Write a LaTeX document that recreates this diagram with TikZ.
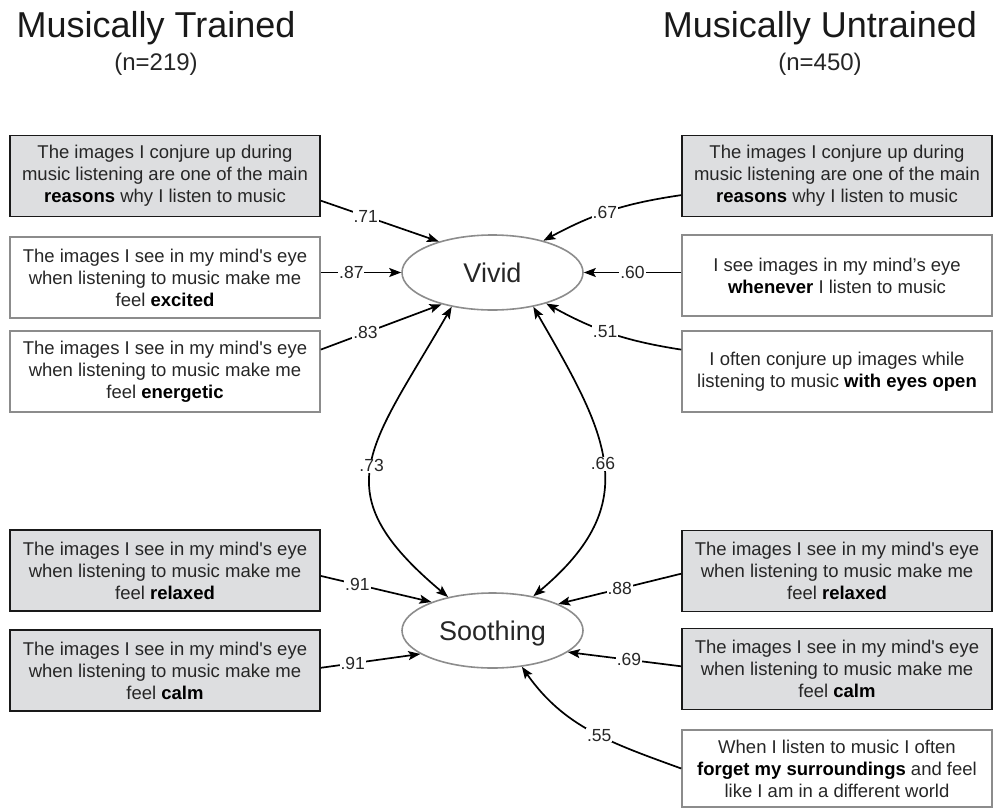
\documentclass[tikz,border=0pt]{standalone}
\usepackage{fontspec}
\setmainfont{Liberation Sans}
\usetikzlibrary{arrows.meta, shapes.geometric}
\definecolor{boxgray}{RGB}{221,222,224}
\definecolor{edgegray}{RGB}{140,140,140}
\definecolor{inkgray}{RGB}{38,38,38}
\newcommand{\bterm}[1]{\textbf{\color{black}#1}}

\begin{document}
\begin{tikzpicture}[x=1pt, y=1pt, >={Stealth[length=12pt, width=9pt, inset=2.5pt]}, line width=1.7pt,
  item/.style={draw=edgegray, line width=1.5pt, align=center, minimum width=310pt, minimum height=81pt, inner sep=0pt, text=inkgray, font=\fontsize{18.5}{22}\selectfont},
  itemdark/.style={item, draw=black!90, fill=boxgray, line width=1.8pt},
  factor/.style={ellipse, draw=edgegray, line width=1.6pt, minimum width=181pt, minimum height=75pt, text height=19pt, text depth=0pt, text=inkgray, font=\fontsize{27}{30}\selectfont},
  weight/.style={fill=white, inner sep=1pt, text=inkgray, font=\fontsize{17.5}{19}\selectfont},
  heading/.style={anchor=base, text=black!90, font=\fontsize{36}{40}\selectfont},
  samplesize/.style={anchor=base, text=inkgray, font=\fontsize{24}{28}\selectfont}]
\useasboundingbox (0,0) rectangle (996,-809);
% group headings
\node[heading] (h1) at (156,-37) {Musically Trained};
\node[samplesize] (s1) at (156,-70) {(n=219)};
\node[heading] (h2) at (820,-37) {Musically Untrained};
\node[samplesize] (s2) at (820,-70) {(n=450)};
% latent factors
\node[factor] (vivid) at (492.5,-272.5) {Vivid};
\node[factor] (soothing) at (492.5,-630.5) {Soothing};
% items, musically trained
\node[itemdark] (t1) at (165,-176) {The images I conjure up during\\music listening are one of the main\\\bterm{reasons} why I listen to music};
\node[item] (t2) at (165,-277.5) {The images I see in my mind\textquotesingle s eye\\when listening to music make me\\feel \bterm{excited}};
\node[item] (t3) at (165,-371.5) {The images I see in my mind\textquotesingle s eye\\when listening to music make me\\feel \bterm{energetic}};
\node[itemdark] (t4) at (165,-570.5) {The images I see in my mind\textquotesingle s eye\\when listening to music make me\\feel \bterm{relaxed}};
\node[itemdark] (t5) at (165,-670.5) {The images I see in my mind\textquotesingle s eye\\when listening to music make me\\feel \bterm{calm}};
% items, musically untrained
\node[itemdark] (u1) at (837,-176) {The images I conjure up during\\music listening are one of the main\\\bterm{reasons} why I listen to music};
\node[item] (u2) at (837,-275.5) {I see images in my mind’s eye\\\bterm{whenever} I listen to music};
\node[item] (u3) at (837,-371.5) {I often conjure up images while\\listening to music \bterm{with eyes open}};
\node[itemdark] (u4) at (837,-571) {The images I see in my mind\textquotesingle s eye\\when listening to music make me\\feel \bterm{relaxed}};
\node[itemdark] (u5) at (837,-669) {The images I see in my mind\textquotesingle s eye\\when listening to music make me\\feel \bterm{calm}};
\node[item, minimum height=77pt] (u6) at (837,-768.5) {When I listen to music I often\\\bterm{forget my surroundings} and feel\\like I am in a different world};
% loadings
\draw[->] (t1.-9) -- node[weight, pos=0.38] {.71} (vivid.150);
\draw[->] (t2.east |- vivid.west) -- node[weight, pos=0.38] {.87} (vivid.west);
\draw[->] (t3.8) -- node[weight, pos=0.37] {.83} (vivid.212);
\draw[->] (u1.187) to[bend right=10] node[weight, pos=0.54] {.67} (vivid.32);
\draw[->] (u2.west |- vivid.east) -- node[weight, pos=0.5] {.60} (vivid.east);
\draw[->] (u3.172) to[bend left=10] node[weight, pos=0.55] {.51} (vivid.-30);
\draw[->] (t4.-2) -- node[weight, pos=0.33] {.91} (soothing.155);
\draw[->] (t5.1) -- node[weight, pos=0.32] {.91} (soothing.198);
\draw[->] (u4.181) -- node[weight, pos=0.5] {.88} (soothing.22);
\draw[->] (u5.179) -- node[weight, pos=0.46] {.69} (soothing.-16);
\draw[->] (u6.west) to[out=160, in=-55] node[weight, pos=0.45] {.55} (soothing.-51);
% factor correlations
\draw[<->] (vivid.220) to[out=240, in=140, looseness=1.45] node[weight] {.73} (soothing.143);
\draw[<->] (vivid.-40) to[out=-60, in=40, looseness=1.3] node[weight] {.66} (soothing.40);
\end{tikzpicture}
\end{document}
